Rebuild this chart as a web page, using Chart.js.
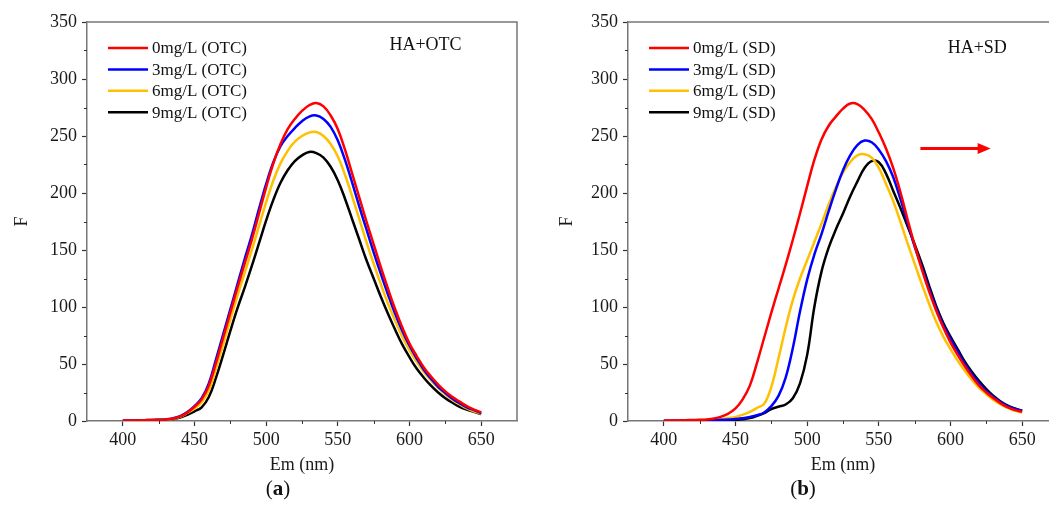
<!DOCTYPE html>
<html>
<head>
<meta charset="utf-8">
<script src="https://cdn.jsdelivr.net/npm/chart.js@4.4.1/dist/chart.umd.min.js"></script>
<style>
  html, body { margin: 0; padding: 0; background: #fff; overflow: hidden; }
  body { width: 1049px; height: 508px; position: relative; }
  .panel { position: absolute; top: 0; }
  .caption { position: absolute; top: 476px; font: 21px 'Liberation Serif', 'Times New Roman', serif; color: #111; transform: translateX(-50%); }
</style>
</head>
<body>
<div class="panel" style="left:0;width:520px;height:508px"><canvas id="chartA" width="520" height="508"></canvas></div>
<div class="panel" style="left:520px;width:541px;height:508px"><canvas id="chartB" width="541" height="508"></canvas></div>
<div class="caption" style="left:278px">(<b>a</b>)</div>
<div class="caption" style="left:803px">(<b>b</b>)</div>
<script>
// emission wavelength (nm)
const wavelengths = [400, 405, 410, 415, 420, 425, 430, 435, 440, 445, 450, 455, 460, 465, 470, 475, 480, 485, 490, 495,
  500, 505, 510, 515, 520, 525, 530, 535, 540, 545, 550, 555, 560, 565, 570, 575, 580, 585, 590, 595,
  600, 605, 610, 615, 620, 625, 630, 635, 640, 645, 650];

// HA + OTC
const otc0 = [0.3, 0.4, 0.5, 0.7, 0.9, 1.1, 1.4, 2.2, 4, 7.5, 12.5, 19, 31, 51, 73, 95, 117, 138, 159, 182,
  205, 226, 243, 256, 265, 272, 277, 279, 276, 268, 256, 238, 217, 196, 175, 155, 135, 116, 98, 82,
  68, 57, 47, 39, 32, 26, 21, 17, 13, 10, 7.5];
const otc3 = [0.3, 0.4, 0.5, 0.7, 0.9, 1.1, 1.4, 2.3, 4.2, 7.8, 13, 20, 33, 54, 76, 98, 120, 142, 163, 186,
  208, 227, 241, 250, 257, 263, 267, 268, 265, 258, 246, 229, 209, 188, 168, 148, 129, 111, 94, 79,
  66, 55, 45, 37, 30, 24.5, 19.5, 15.5, 12, 9.5, 7];
const otc6 = [0.3, 0.4, 0.5, 0.6, 0.8, 1, 1.3, 2, 3.7, 7, 11, 16.5, 27, 46, 67, 89, 110, 130, 150, 171,
  192, 211, 226, 237, 245, 250, 253, 253.5, 250, 243, 232, 216, 197, 177, 157, 138, 120, 103, 88, 74,
  62, 52, 43, 35.5, 29, 23.5, 18.5, 14.5, 11, 8.5, 6.5];
const otc9 = [0.2, 0.3, 0.4, 0.5, 0.7, 0.9, 1.1, 1.7, 3, 5.5, 8.5, 12, 21, 38, 58, 79, 99, 117, 136, 156,
  176, 194, 209, 220, 228, 233, 236, 235, 231, 223, 211, 195, 177, 159, 141, 125, 109, 94, 80, 67,
  56, 46, 38, 31, 25, 20, 16, 12.5, 10, 8, 6];

// HA + SD
const sd0 = [0.3, 0.4, 0.5, 0.7, 0.9, 1.1, 1.4, 2.2, 3.8, 6.5, 11, 19, 31, 51, 73, 95, 116, 137, 159, 182,
  206, 229, 247, 259, 267, 274, 278.5, 278, 273, 265, 253, 239, 222, 201, 177, 154, 133, 114, 97, 82,
  69, 58, 48, 39, 31, 25, 20, 15.5, 12, 9.5, 8];
const sd3 = [0.2, 0.2, 0.3, 0.4, 0.5, 0.6, 0.7, 0.8, 1, 1.3, 1.7, 2.5, 3.5, 5, 7.5, 13, 22, 38, 64, 96,
  124, 146, 164, 184, 203, 220, 233, 242, 246, 244.5, 238, 228, 214, 195, 174, 153, 135, 116, 99, 84,
  72, 61, 50, 41, 33, 26.5, 21, 16.5, 13, 10.5, 9];
const sd6 = [0.2, 0.3, 0.4, 0.5, 0.6, 0.8, 1, 1.3, 1.7, 2.5, 3.5, 5.5, 8, 11.5, 15, 30, 55, 82, 106, 125,
  141, 157, 173, 190, 205, 218, 227, 233, 234, 231, 222, 208, 193, 175, 156, 138, 120, 103, 87, 74,
  63, 53, 44, 36, 29, 23.5, 18.5, 14.5, 11.5, 9, 7.5];
const sd9 = [0.1, 0.1, 0.2, 0.2, 0.3, 0.3, 0.4, 0.5, 0.6, 0.8, 1, 1.5, 2.5, 4.5, 7, 10.5, 12.5, 14.5, 20, 33,
  58, 100, 131, 152, 168, 182, 197, 210, 222, 228, 227, 217, 202, 187, 171, 155, 138, 119, 101, 86,
  74, 63, 52, 43, 35, 28, 22, 17, 13.5, 11, 9];

const labelsOtc = ['0mg/L (OTC)', '3mg/L (OTC)', '6mg/L (OTC)', '9mg/L (OTC)'];
const labelsSd = ['0mg/L (SD)', '3mg/L (SD)', '6mg/L (SD)', '9mg/L (SD)'];
const lineColors = ['#ff0000', '#0000ff', '#ffc000', '#000000'];

const xTicks = [400, 450, 500, 550, 600, 650];
const xMinorTicks = [425, 475, 525, 575, 625];
const yTicks = [0, 50, 100, 150, 200, 250, 300, 350];
const yMinorTicks = [25, 75, 125, 175, 225, 275, 325];

const SERIF = "'Liberation Serif', 'Times New Roman', serif";

// frame, minor ticks, inline legend, note text and arrow
const decor = {
  id: 'decor',
  afterDraw(chart, args, opts) {
    const ctx = chart.ctx;
    const a = chart.chartArea;
    const xs = chart.scales.x, ys = chart.scales.y;
    ctx.save();
    // top and right frame lines
    ctx.strokeStyle = '#777';
    ctx.lineWidth = 1.5;
    ctx.beginPath();
    ctx.moveTo(a.left, a.top);
    ctx.lineTo(a.right, a.top);
    ctx.lineTo(a.right, a.bottom);
    ctx.stroke();
    // minor ticks
    ctx.strokeStyle = '#333';
    ctx.lineWidth = 1;
    ctx.beginPath();
    xMinorTicks.forEach(v => {
      const px = Math.round(xs.getPixelForValue(v)) + 0.5;
      ctx.moveTo(px, a.bottom);
      ctx.lineTo(px, a.bottom + 3);
    });
    yMinorTicks.forEach(v => {
      const py = Math.round(ys.getPixelForValue(v)) + 0.5;
      ctx.moveTo(a.left, py);
      ctx.lineTo(a.left - 3, py);
    });
    ctx.stroke();
    // legend
    ctx.font = '17px ' + SERIF;
    ctx.textBaseline = 'middle';
    ctx.fillStyle = '#111';
    chart.data.datasets.forEach((ds, i) => {
      const y = a.top + 26 + i * 21.4;
      ctx.strokeStyle = ds.borderColor;
      ctx.lineWidth = 2.5;
      ctx.beginPath();
      ctx.moveTo(a.left + 21, y);
      ctx.lineTo(a.left + 61, y);
      ctx.stroke();
      ctx.fillText(ds.label, a.left + 65, y + 1);
    });
    // note
    ctx.font = '18px ' + SERIF;
    ctx.fillText(opts.note, xs.getPixelForValue(opts.noteX), ys.getPixelForValue(opts.noteY));
    // arrow
    if (opts.arrow) {
      const x0 = xs.getPixelForValue(opts.arrow[0]);
      const x1 = xs.getPixelForValue(opts.arrow[1]);
      const y = ys.getPixelForValue(opts.arrow[2]);
      ctx.strokeStyle = '#ff0000';
      ctx.fillStyle = '#ff0000';
      ctx.lineWidth = 3;
      ctx.beginPath();
      ctx.moveTo(x0, y);
      ctx.lineTo(x1 - 12, y);
      ctx.stroke();
      ctx.beginPath();
      ctx.moveTo(x1, y);
      ctx.lineTo(x1 - 13, y - 5.5);
      ctx.lineTo(x1 - 13, y + 5.5);
      ctx.closePath();
      ctx.fill();
    }
    ctx.restore();
  }
};

function makeChart(id, series, labels, yAxisWidth, titlePad, decorOpts) {
  // legend order 0,3,6,9; red drawn on top
  const datasets = series.map((vals, i) => ({
    label: labels[i],
    data: wavelengths.map((w, j) => ({ x: w, y: vals[j] })),
    borderColor: lineColors[i],
    backgroundColor: lineColors[i],
    borderWidth: 2.5,
    pointRadius: 0,
    tension: 0.4,
    fill: false,
    order: i
  }));

  return new Chart(document.getElementById(id), {
    type: 'line',
    data: { datasets: datasets },
    plugins: [decor],
    options: {
      responsive: false,
      animation: false,
      devicePixelRatio: 1,
      layout: { padding: { top: 22, right: 3, left: 0, bottom: 0 } },
      plugins: {
        legend: { display: false },
        tooltip: { enabled: false },
        decor: decorOpts
      },
      scales: {
        x: {
          type: 'linear',
          min: 375,
          max: 675,
          afterBuildTicks: s => { s.ticks = xTicks.map(v => ({ value: v })); },
          afterFit: s => { s.height = 87; },
          grid: { drawOnChartArea: false, drawTicks: true, tickLength: 5, tickColor: '#333', tickWidth: 1.2 },
          border: { display: true, color: '#777', width: 1.5 },
          ticks: { color: '#1a1a1a', font: { family: SERIF, size: 18 }, padding: 3, maxRotation: 0 },
          title: { display: true, text: 'Em (nm)', color: '#1a1a1a', font: { family: SERIF, size: 18 }, padding: { top: 0, bottom: 32 } }
        },
        y: {
          min: 0,
          max: 350,
          afterBuildTicks: s => { s.ticks = yTicks.map(v => ({ value: v })); },
          afterFit: s => { s.width = yAxisWidth; },
          grid: { drawOnChartArea: false, drawTicks: true, tickLength: 5, tickColor: '#333', tickWidth: 1.2 },
          border: { display: true, color: '#777', width: 1.5 },
          ticks: { color: '#1a1a1a', font: { family: SERIF, size: 18 }, padding: 5 },
          title: { display: true, text: 'F', color: '#1a1a1a', font: { family: SERIF, size: 18 }, padding: { top: titlePad, bottom: 0 } }
        }
      }
    }
  });
}

makeChart('chartA', [otc0, otc3, otc6, otc9], labelsOtc, 87, 11,
  { note: 'HA+OTC', noteX: 586, noteY: 330 });
makeChart('chartB', [sd0, sd3, sd6, sd9], labelsSd, 108, 36,
  { note: 'HA+SD', noteX: 598, noteY: 327, arrow: [579, 628, 239] });
</script>
</body>
</html>
